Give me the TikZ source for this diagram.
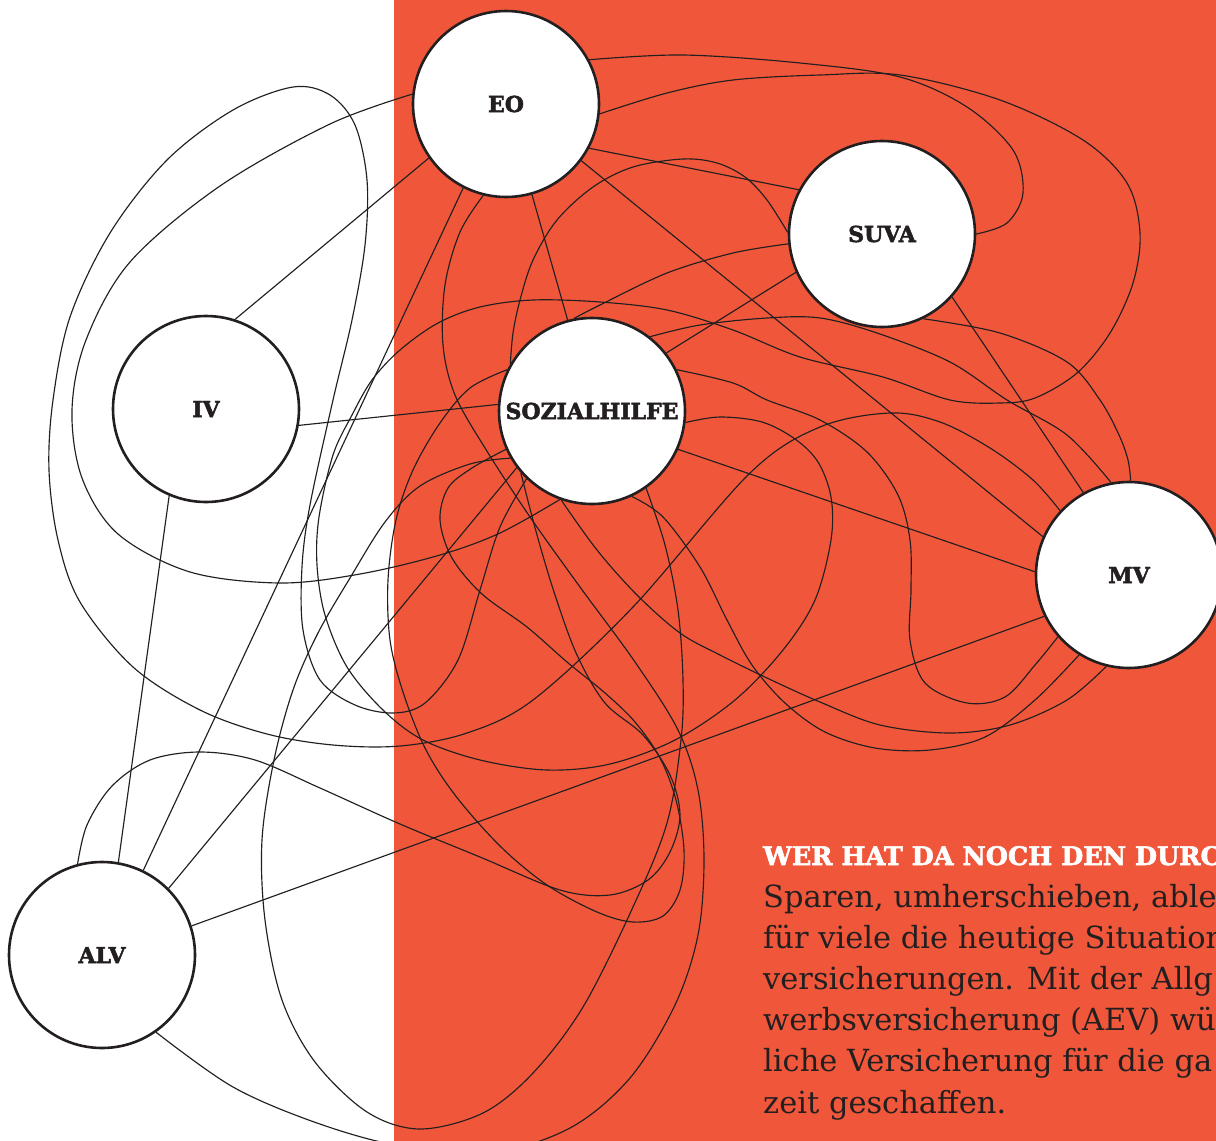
\documentclass[tikz,border=0pt]{standalone}
\usepackage{fontspec}
\setmainfont{DejaVu Serif}
\newfontfamily\hubfont{DejaVu Serif}[FakeBold=2.2]
\definecolor{bgorange}{RGB}{240,87,58}
\definecolor{ink}{RGB}{35,31,32}
\pgfdeclarelayer{back}
\pgfdeclarelayer{edges}
\pgfsetlayers{back,edges,main}
\begin{document}
\begin{tikzpicture}[x=1pt,y=-1pt,
  hub/.style={circle, draw=ink, fill=white, line width=2.6pt, minimum size=186pt, inner sep=0pt,
    font=\hubfont\bfseries\fontsize{22}{22}\selectfont, text=ink},
  link/.style={draw=ink, line width=1.15pt},
  curvy/.style={link, smooth, tension=0.55},
  bodyline/.style={anchor=base west, inner sep=0pt, text=ink, font=\fontsize{30.5}{41}\selectfont},
  headline/.style={anchor=base west, inner sep=0pt, text=white, font=\hubfont\bfseries\fontsize{25.5}{25.5}\selectfont}]
\useasboundingbox (0,0) rectangle (1216,1141);
\begin{pgfonlayer}{back}
  \fill[white] (0,0) rectangle (394,1141);
  \fill[bgorange] (394,0) rectangle (1216,1141);
\end{pgfonlayer}

\node[hub] (EO) at (506,104) {EO};
\node[hub] (SUVA) at (882,234) {SUVA};
\node[hub] (IV) at (206,409) {IV};
\node[hub] (SOZ) at (592,411) {\makebox[0pt]{SOZIALHILFE}};
\node[hub] (MV) at (1129,575) {MV};
\node[hub] (ALV) at (102,955) {ALV};

\begin{pgfonlayer}{edges}
  % straight connectors
  \draw[link] (EO.215) -- (IV.72.5);
  \draw[link] (EO.243.4) -- (ALV.64.2);
  \draw[link] (EO.286.2) -- (SOZ.105.7);
  \draw[link] (EO.332.9) -- (SUVA.152.6);
  \draw[link] (EO.323) -- (MV.156.4);
  \draw[link] (IV.350.9) -- (SOZ.176.3);
  \draw[link] (IV.247.5) -- (ALV.80.8);
  \draw[link] (SUVA.204.6) -- (SOZ.38.2);
  \draw[link] (SUVA.318.4) -- (MV.119);
  \draw[link] (SOZ.336.1) -- (MV.178.8);
  \draw[link] (SOZ.217.2) -- (ALV.45.9);
  \draw[link] (ALV.18.4) -- (MV.206);

  % curve A: EO -> left loop -> SOZ
  \draw[curvy] plot coordinates {(EO.174.5) (330,124) (220,186) (130,262) (86,340) (72,410)
    (82,478) (118,534) (190,572) (280,583) (360,574) (440,555) (500,533) (SOZ.250.2)};

  % curve B: SOZ -> big left loop -> MV
  \draw[curvy] plot coordinates {(SOZ.226.7) (500,527) (480,590) (458,660) (425,703) (393,713) (355,705)
    (320,680) (303,630) (302,567) (310,505) (333,400) (352,320) (365,245) (367,180)
    (355,125) (330,95) (293,87) (233,110) (167,160) (110,233) (70,317) (53,400) (49,470) (58,540) (80,602)
    (133,667) (200,710) (267,734) (333,745) (400,746) (467,733) (533,700) (633,607) (750,473) (820,427)
    (890,413) (940,422) (990,448) (1033,480) (MV.137.9)};

  % curve C: SOZ -> down-left -> bottom -> back up -> SOZ
  \draw[curvy] plot coordinates {(SOZ.210.3) (470,464) (420,486) (385,522) (350,578) (318,633)
    (293,690) (274,760) (262,840) (265,920) (282,1000) (315,1062) (367,1112) (420,1129)
    (483,1113) (533,1073) (583,1007) (633,907) (667,823) (681,740) (683,680) (678,610) (665,545) (SOZ.305.5)};

  % curve D: EO -> around SUVA -> across -> left -> SOZ
  \draw[curvy] plot coordinates {(EO.354.6) (667,93) (733,80) (820,75) (900,75) (1000,100) (1083,140)
    (1127,183) (1140,233) (1133,283) (1110,333) (1077,373) (1035,398) (1000,403) (950,400) (883,377)
    (800,357) (733,330) (667,310) (600,302) (533,300) (480,307) (438,323) (400,350) (372,380) (352,415)
    (333,455) (319,517) (317,565) (325,615) (347,667) (383,710) (423,740) (480,760) (547,770) (610,764)
    (675,740) (735,700) (783,650) (815,600) (831,540) (831,497) (818,462) (795,439) (762,422) (720,417)
    (SOZ.353.4)};

  % curve E: EO -> SUVA (top loop)
  \draw[curvy] plot coordinates {(EO.28.7) (683,55) (800,63) (900,77) (967,107) (1013,150) (1023,193)
    (1007,223) (SUVA.0)};

  % curve F: SUVA -> arch -> SOZ
  \draw[curvy] plot coordinates {(SUVA.179.4) (767,200) (745,177) (717,163) (683,159) (633,167) (593,187)
    (557,220) (533,260) (520,300) (513,333) (SOZ.150)};

  % curve G: SUVA -> SOZ
  \draw[curvy] plot coordinates {(SUVA.186.7) (733,253) (667,273) (600,305) (SOZ.101.5)};

  % curve H: SUVA -> MV
  \draw[curvy] plot coordinates {(SUVA.296) (1000,333) (1067,362) (1100,400) (1119,435) (1128,460) (MV.89.4)};

  % curve I: SOZ -> MV (upper)
  \draw[curvy] plot coordinates {(SOZ.52.7) (700,325) (767,318) (820,318) (877,333) (950,362) (1007,400)
    (1067,435) (MV.101.5)};

  % curve J: SOZ -> MV (wavy)
  \draw[curvy] plot coordinates {(SOZ.26.8) (733,383) (767,400) (820,420) (867,452) (898,495) (910,540)
    (911,590) (910,640) (925,683) (967,703) (1005,697) (1035,665) (MV.221.6)};

  % curve P: SOZ -> MV (lower)
  \draw[curvy] plot coordinates {(SOZ.251.9) (597,550) (637,595) (680,633) (720,655) (767,678) (820,702)
    (880,725) (950,733) (1010,725) (1067,700) (MV.256.6)};

  % curve Q: SOZ -> MV (lower 2)
  \draw[curvy] plot coordinates {(SOZ.295.5) (663,517) (700,567) (727,620) (752,665) (785,703) (825,732)
    (875,748) (930,750) (985,737) (1035,700) (MV.238.1)};

  % curve K: EO -> down -> bottom -> ALV
  \draw[curvy] plot coordinates {(EO.256.1) (460,232) (445,285) (443,345) (455,395) (485,448)
    (530,517) (580,587) (635,662) (678,730) (698,790) (704,860) (698,935) (675,1005)
    (630,1078) (570,1128) (490,1153) (400,1146) (317,1123) (233,1087) (ALV.305.2)};

  % curve L: SOZ self loop
  \draw[curvy] plot coordinates {(SOZ.154) (470,388) (440,423) (413,470) (396,520) (388,580)
    (390,640) (403,692) (425,748) (455,795) (500,846) (547,885) (597,912)
    (633,922) (663,916) (680,890) (684,850) (676,800) (660,758) (635,722) (605,693) (567,662) (527,627)
    (482,594) (452,558) (440,520) (448,488) (472,468) (SOZ.204.1)};

  % curve M: SOZ -> loop -> ALV
  \draw[curvy] plot coordinates {(SOZ.221.9) (537,535) (555,595) (577,655) (605,703) (643,735)
    (670,775) (680,815) (670,852) (648,880) (610,895) (560,890) (480,857)
    (400,824) (320,788) (255,760) (200,752) (150,760) (112,786) (87,825) (ALV.105.2)};
\end{pgfonlayer}

\begin{scope}
  \clip (394,0) rectangle (1216,1141);
  \node[headline] (head) at (763,865) {WER HAT DA NOCH DEN DURC};
  \node[bodyline] (l1) at (763,907) {Sparen, umherschieben, able};
  \node[bodyline] (l2) at (763,948) {für viele die heutige Situation};
  \node[bodyline] (l3) at (763,989) {versicherungen. Mit der Allg};
  \node[bodyline] (l4) at (763,1030) {werbsversicherung (AEV) wü};
  \node[bodyline] (l5) at (763,1071) {liche Versicherung für die ga};
  \node[bodyline] (l6) at (763,1113) {zeit geschaffen.};
\end{scope}
\end{tikzpicture}
\end{document}
